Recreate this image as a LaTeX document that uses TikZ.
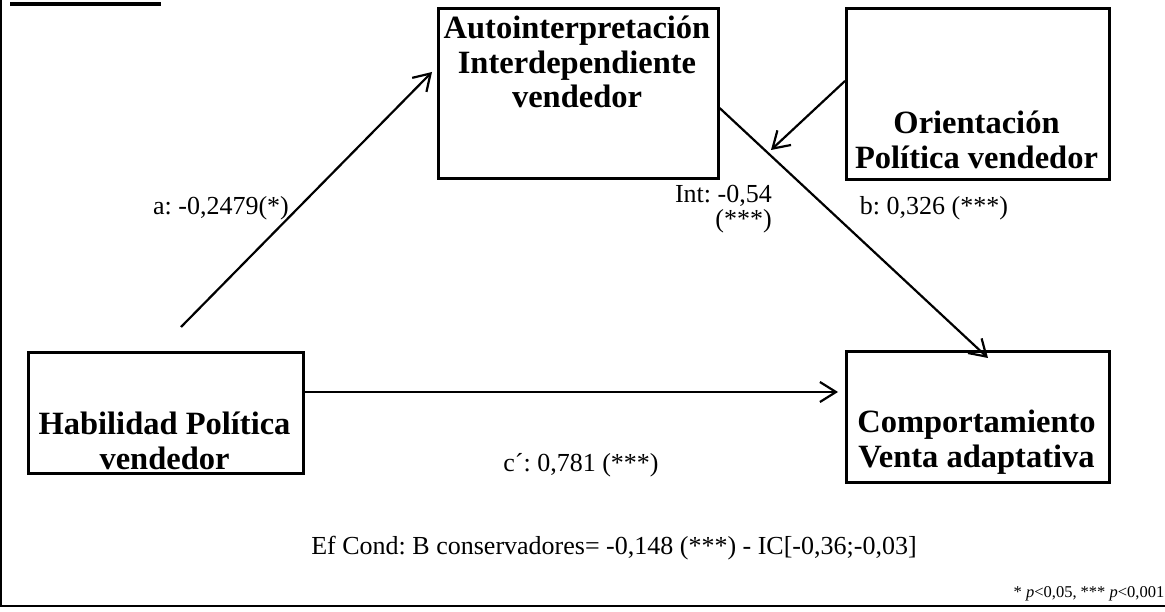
\documentclass[tikz,border=0pt]{standalone}
\usepackage{fontspec}
\setmainfont{Liberation Serif}
\usetikzlibrary{arrows.meta}
\frenchspacing

\tikzset{
  varbox/.style={draw, line width=2.6pt, rectangle, inner sep=0pt, anchor=north west},
  boxtext/.style={font=\bfseries\fontsize{32.5}{34.5}\selectfont, align=center, inner sep=0pt},
  coef/.style={font=\fontsize{26}{26}\selectfont, inner sep=0pt},
  path/.style={line width=2.2pt, -{Straight Barb[length=16pt, width=20pt, line width=2.2pt]}},
  frame/.style={line width=2.6pt}
}

\begin{document}
\begin{tikzpicture}[x=1pt, y=-1pt]
  \useasboundingbox (0,0) rectangle (1165,612);

  % frame and heading rule
  \draw[frame] (1,0) -- (1,606) -- (1165,606);
  \draw[line width=4pt] (10,4) -- (161,4);

  % variable boxes
  \node[varbox, minimum width=275pt, minimum height=121pt] (hab) at (27,351) {};
  \node[varbox, minimum width=280pt, minimum height=170pt] (auto) at (437,7) {};
  \node[varbox, minimum width=263pt, minimum height=171pt] (ori) at (845,7) {};
  \node[varbox, minimum width=263pt, minimum height=131pt] (comp) at (845,350) {};

  \node[boxtext] (habT) at (164.5,441) {Habilidad Política\\vendedor};
  \node[boxtext] (autoT) at (577,62) {Autointerpretación\\Interdependiente\\vendedor};
  \node[boxtext] (oriT) at (976.5,140) {Orientación\\Política vendedor};
  \node[boxtext] (compT) at (976.5,442) {Comportamiento\\Venta adaptativa};

  % connector end points
  \coordinate (aS) at (181,327);
  \coordinate (aE) at (432,72);
  \coordinate (iS) at (auto.east |- 0,108);
  \coordinate (iE) at (988,358);
  \coordinate (oS) at (ori.west |- 0,81);
  \coordinate (oE) at (771,150);
  \coordinate (cS) at (305,392);
  \coordinate (cE) at (838,392);

  % paths
  \draw[path] (aS) -- (aE);
  \draw[path] (iS) -- (iE);
  \draw[path] (oS) -- (oE);
  \draw[path] (cS) -- (cE);

  % coefficients
  \node[coef, anchor=base] (aL) at (221,215) {a: -0,2479(*)};
  \node[coef, anchor=east, align=right, font=\fontsize{26}{25}\selectfont] (iL) at (772,209) {Int: -0,54\\(***)};
  \node[coef] (bL) at (934,208) {b: 0,326 (***)};
  \node[coef] (cL) at (581,465) {c´: 0,781 (***)};
  \node[coef] (ef) at (614,548) {Ef Cond: B conservadores= -0,148 (***) - IC[-0,36;-0,03]};
  \node[font=\fontsize{16.5}{16.5}\selectfont, inner sep=0pt, anchor=base] (note) at (1089,597) {* \textit{p}<0,05, *** \textit{p}<0,001};
\end{tikzpicture}
\end{document}
